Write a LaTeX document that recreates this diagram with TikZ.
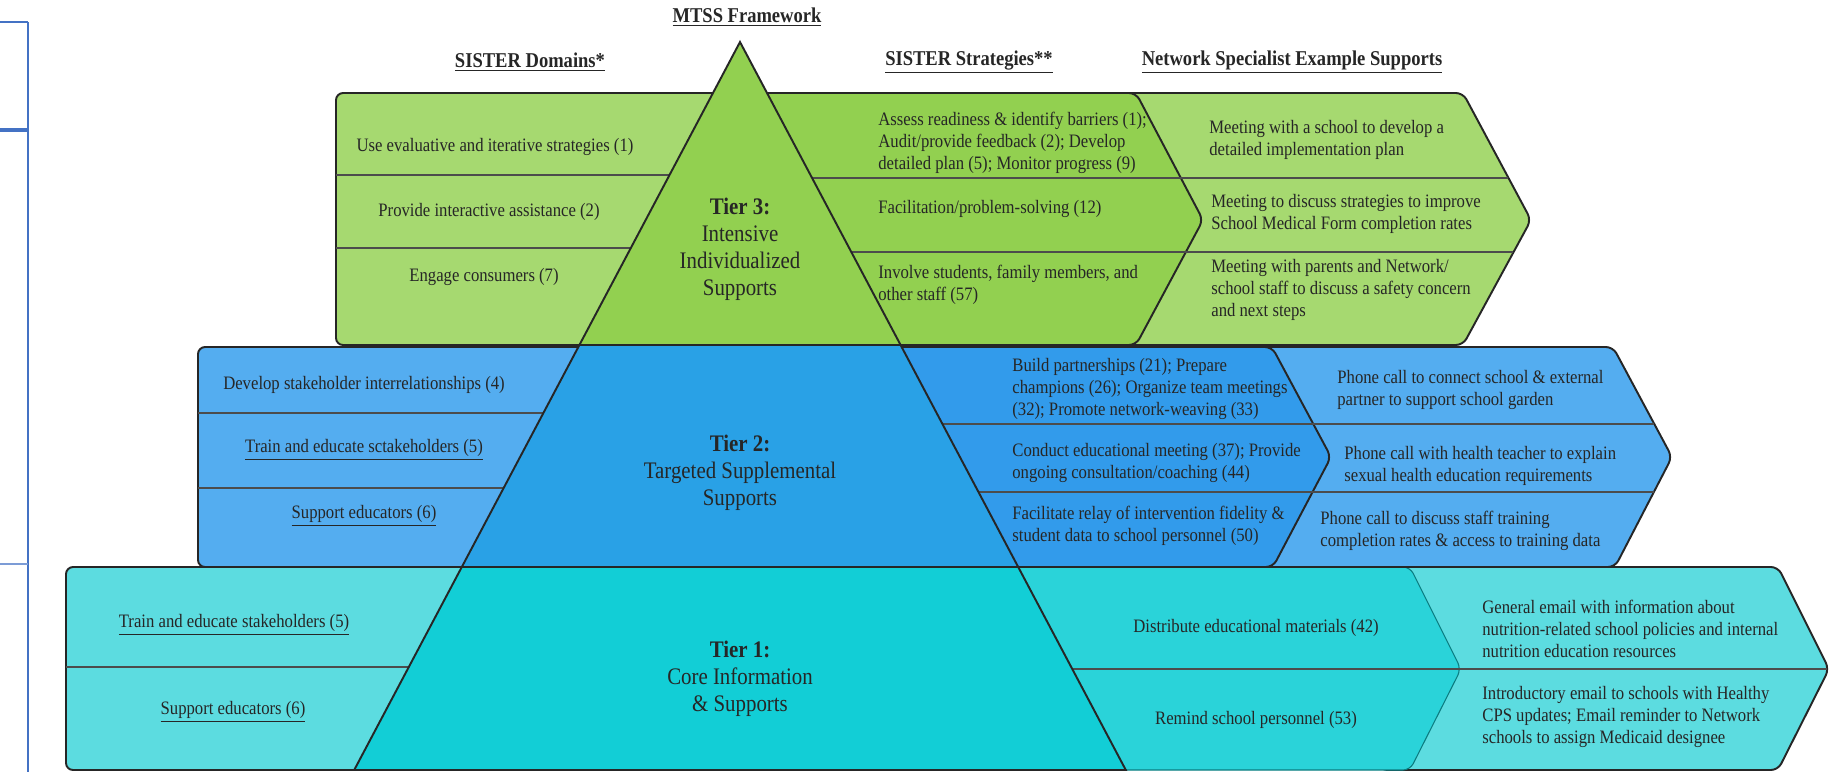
\documentclass[tikz,border=0pt]{standalone}
\usepackage{fontspec}
\setmainfont{Liberation Serif}[FakeStretch=0.88]
\usepackage{tikz}

\definecolor{greenTier}{RGB}{146,208,80}
\definecolor{greenSide}{RGB}{166,217,112}
\definecolor{blueTier}{RGB}{41,161,230}
\definecolor{blueMid}{RGB}{50,155,235}
\definecolor{blueSide}{RGB}{84,173,240}
\definecolor{tealTier}{RGB}{18,206,214}
\definecolor{tealMid}{RGB}{42,211,217}
\definecolor{tealSide}{RGB}{92,220,224}
\definecolor{frameBlue}{RGB}{68,114,196}
\definecolor{edgeGray}{RGB}{38,38,38}

\tikzset{
  box/.style={draw=edgeGray, line width=1.1pt, rounded corners=4pt},
  tier/.style={draw=edgeGray, line width=1.1pt},
  divider/.style={draw=black!70, line width=0.8pt},
  item/.style={inner sep=0pt, text=black!85, font=\fontsize{10.8}{12.5}\selectfont},
  itemL/.style={item, anchor=west, align=left},
  tierlabel/.style={inner sep=0pt, align=center, text=black!85, font=\fontsize{13.5}{15.4}\selectfont},
  heading/.style={inner sep=0pt, text=black!85, font=\fontsize{12}{14}\selectfont\bfseries}
}

\begin{document}
\begin{tikzpicture}[x=0.02cm, y=-0.02cm]
  \useasboundingbox (0,0) rectangle (1846,772);

  % edge of the panel on the left
  \draw[frameBlue, line width=1.4pt] (28,22) -- (28,772);
  \draw[frameBlue, line width=0.9pt] (0,22) -- (28,22);
  \draw[frameBlue, line width=2.2pt] (0,130) -- (28,130);
  \draw[frameBlue!70, line width=0.7pt] (0,564) -- (28,564);

  % column headings
  \node[heading] (hMtss) at (747,17) {\underline{MTSS Framework}};
  \node[heading] (hDomains) at (530,62) {\underline{SISTER Domains*}};
  \node[heading] (hStrategies) at (969,62) {\underline{SISTER Strategies**}};
  \node[heading] (hSupports) at (1292,62) {\underline{Network Specialist Example Supports}};

  % pyramid corners
  \coordinate (apex) at (740,42);
  \coordinate (l3) at (579.4,345);
  \coordinate (r3) at (900.6,345);
  \coordinate (l2) at (461.8,567);
  \coordinate (r2) at (1018.2,567);
  \coordinate (l1) at (354.2,770);
  \coordinate (r1) at (1125.8,770);

  % tier 1 bands
  \draw[box, fill=tealSide] (66,567) rectangle (480,770);
  \draw[divider] (66,667) -- (450,667);
  \draw[box, fill=tealSide] (1380,567) -- (1778,567) -- (1829,669) -- (1778,770) -- (1380,770) -- cycle;
  \draw[box, fill=tealMid, draw=tealTier!60!black, line width=0.6pt]
    (1000,567) -- (1410,567) -- (1461,669) -- (1410,770) -- (1000,770) -- cycle;
  \draw[divider] (1050,669) -- (1827,669);

  % tier 2 bands
  \draw[box, fill=blueSide] (198,347) rectangle (600,567);
  \draw[divider] (198,413) -- (560,413);
  \draw[divider] (198,488) -- (560,488);
  \draw[box, fill=blueSide] (1240,347) -- (1613,347) -- (1672,457) -- (1615,567) -- (1240,567) -- cycle;
  \draw[box, fill=blueMid] (870,347) -- (1272,347) -- (1331,457) -- (1273,567) -- (870,567) -- cycle;
  \draw[divider] (930,424) -- (1654,424);
  \draw[divider] (960,492) -- (1654,492);

  % tier 3 bands
  \draw[box, fill=greenSide] (336,93) rectangle (720,345);
  \draw[divider] (336,175) -- (700,175);
  \draw[divider] (336,248) -- (700,248);
  \draw[box, fill=greenSide] (1100,93) -- (1463,93) -- (1531,220) -- (1463,345) -- (1100,345) -- cycle;
  \draw[box, fill=greenTier] (760,93) -- (1136,93) -- (1203,220) -- (1136,345) -- (760,345) -- cycle;
  \draw[divider] (790,178) -- (1508,178);
  \draw[divider] (830,252) -- (1513,252);

  % the pyramid
  \draw[tier, fill=greenTier] (apex) -- (l3) -- (r3) -- cycle;
  \draw[tier, fill=blueTier] (l3) -- (l2) -- (r2) -- (r3) -- cycle;
  \draw[tier, fill=tealTier] (l2) -- (l1) -- (r1) -- (r2) -- cycle;

  \node[tierlabel] (t3) at (740,249) {\textbf{Tier 3:}\\Intensive\\Individualized\\Supports};
  \node[tierlabel] (t2) at (740,473) {\textbf{Tier 2:}\\Targeted Supplemental\\Supports};
  \node[tierlabel] (t1) at (740,679) {\textbf{Tier 1:}\\Core Information\\\& Supports};

  % domains
  \node[item] (d31) at (495,147) {Use evaluative and iterative strategies (1)};
  \node[item] (d32) at (489,212) {Provide interactive assistance (2)};
  \node[item] (d33) at (484,277) {Engage consumers (7)};
  \node[item] (d21) at (364,385) {Develop stakeholder interrelationships (4)};
  \node[item] (d22) at (364,450) {\underline{Train and educate sctakeholders (5)}};
  \node[item] (d23) at (364,516) {\underline{Support educators (6)}};
  \node[item] (d11) at (234,625) {\underline{Train and educate stakeholders (5)}};
  \node[item] (d12) at (233,712) {\underline{Support educators (6)}};

  % strategies
  \node[itemL] (s31) at (878,143) {Assess readiness \& identify barriers (1);\\Audit/provide feedback (2); Develop\\detailed plan (5); Monitor progress (9)};
  \node[itemL] (s32) at (878,209) {Facilitation/problem-solving (12)};
  \node[itemL] (s33) at (878,285) {Involve students, family members, and\\other staff (57)};
  \node[itemL] (s21) at (1012,389) {Build partnerships (21); Prepare\\champions (26); Organize team meetings\\(32); Promote network-weaving (33)};
  \node[itemL] (s22) at (1012,463) {Conduct educational meeting (37); Provide\\ongoing consultation/coaching (44)};
  \node[itemL] (s23) at (1012,526) {Facilitate relay of intervention fidelity \&\\student data to school personnel (50)};
  \node[item] (s11) at (1256,628) {Distribute educational materials (42)};
  \node[item] (s12) at (1256,720) {Remind school personnel (53)};

  % example supports
  \node[itemL] (n31) at (1209,140) {Meeting with a school to develop a\\detailed implementation plan};
  \node[itemL] (n32) at (1211,214) {Meeting to discuss strategies to improve\\School Medical Form completion rates};
  \node[itemL] (n33) at (1211,290) {Meeting with parents and Network/\\school staff to discuss a safety concern\\and next steps};
  \node[itemL] (n21) at (1337,390) {Phone call to connect school \& external\\partner to support school garden};
  \node[itemL] (n22) at (1344,466) {Phone call with health teacher to explain\\sexual health education requirements};
  \node[itemL] (n23) at (1320,531) {Phone call to discuss staff training\\completion rates \& access to training data};
  \node[itemL] (n11) at (1482,629) {General email with information about\\nutrition-related school policies and internal\\nutrition education resources};
  \node[itemL] (n12) at (1482,717) {Introductory email to schools with Healthy\\CPS updates; Email reminder to Network\\schools to assign Medicaid designee};
\end{tikzpicture}
\end{document}
